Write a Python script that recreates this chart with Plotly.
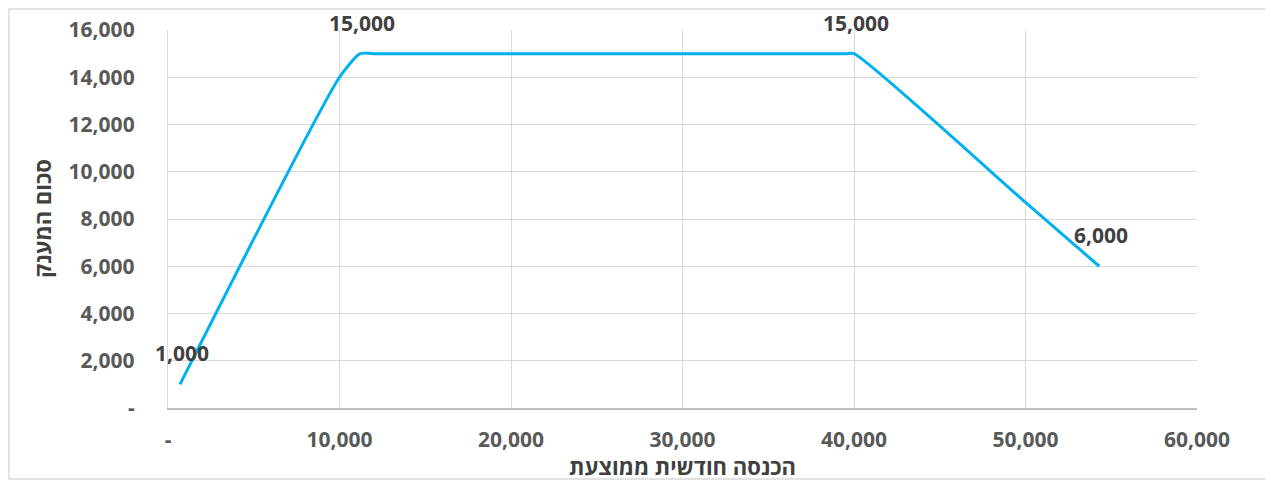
import plotly.graph_objects as go

# Data
income = [700, 10000, 11200, 12000, 39500, 40000, 50000, 54300]
grant = [1000, 14000, 15000, 15000, 15000, 15000, 8700, 6000]
label_text = ["1,000", "", "15,000", "", "", "15,000", "", "6,000"]

x_tickvals = [0, 10000, 20000, 30000, 40000, 50000, 60000]
x_ticktext = ["-", "10,000", "20,000", "30,000", "40,000", "50,000", "60,000"]
y_tickvals = [0, 2000, 4000, 6000, 8000, 10000, 12000, 14000, 16000]
y_ticktext = ["-", "2,000", "4,000", "6,000", "8,000", "10,000", "12,000", "14,000", "16,000"]

x_title = "הכנסה חודשית ממוצעת"
y_title = "סכום המענק"

FONT = "Open Sans"

# The page body has an 8px margin, so the figure is offset by 8px.
OFF = 8
PL, PT, PW, PH = 168, 30, 1029, 378   # plot area in screen pixels
W, H = 1273 - OFF, 480 - OFF
L, T = PL - OFF, PT - OFF
R = W - L - PW
B = H - T - PH


def px(sx):
    return (sx - PL) / PW


def py(sy):
    return (PT + PH - sy) / PH


fig = go.Figure()
fig.add_trace(go.Scatter(
    x=income, y=grant,
    mode="lines",
    line=dict(color="#00b0f0", width=3, shape="spline", smoothing=0.6),
    hoverinfo="x+y",
))

for xv, yv, t in zip(income, grant, label_text):
    if t:
        fig.add_annotation(x=xv, y=yv, text=t, showarrow=False,
                           xanchor="center", yanchor="middle",
                           xshift=2, yshift=31,
                           font=dict(family=FONT, size=21, color="#404040", weight="bold"))

fig.add_shape(type="rect", xref="paper", yref="paper",
              x0=px(9), x1=px(1270), y0=py(479), y1=py(9),
              line=dict(color="#d9d9d9", width=1.5), fillcolor="rgba(0,0,0,0)", layer="below")

fig.add_annotation(text=x_title, xref="paper", yref="paper",
                   x=px(682), y=py(466),
                   xanchor="center", yanchor="middle", showarrow=False,
                   font=dict(family=FONT, size=22, color="#404040", weight="bold"))
fig.add_annotation(text=y_title, xref="paper", yref="paper",
                   x=px(42), y=py(219),
                   xanchor="center", yanchor="middle", showarrow=False, textangle=-90,
                   font=dict(family=FONT, size=22, color="#404040", weight="bold"))

fig.update_layout(
    width=W, height=H,
    margin=dict(l=L, r=R, t=T, b=B, autoexpand=False),
    paper_bgcolor="white", plot_bgcolor="white",
    showlegend=False,
    font=dict(family=FONT, color="#595959"),
    xaxis=dict(
        range=[0, 60000], tickvals=x_tickvals, ticktext=x_ticktext,
        showgrid=True, gridcolor="#d9d9d9", gridwidth=1.3,
        showline=True, linecolor="#bfbfbf", linewidth=1.5,
        zeroline=False, ticks="", ticklabelstandoff=12, automargin=False,
        tickfont=dict(family=FONT, size=21, color="#595959", weight="bold"),
    ),
    yaxis=dict(
        range=[0, 16000], tickvals=y_tickvals, ticktext=y_ticktext,
        showgrid=True, gridcolor="#d9d9d9", gridwidth=1.3,
        showline=True, linecolor="#d9d9d9", linewidth=1.3,
        zeroline=False, ticks="", ticklabelstandoff=28, automargin=False,
        tickfont=dict(family=FONT, size=21, color="#595959", weight="bold"),
    ),
)

fig.write_html("out.html")
